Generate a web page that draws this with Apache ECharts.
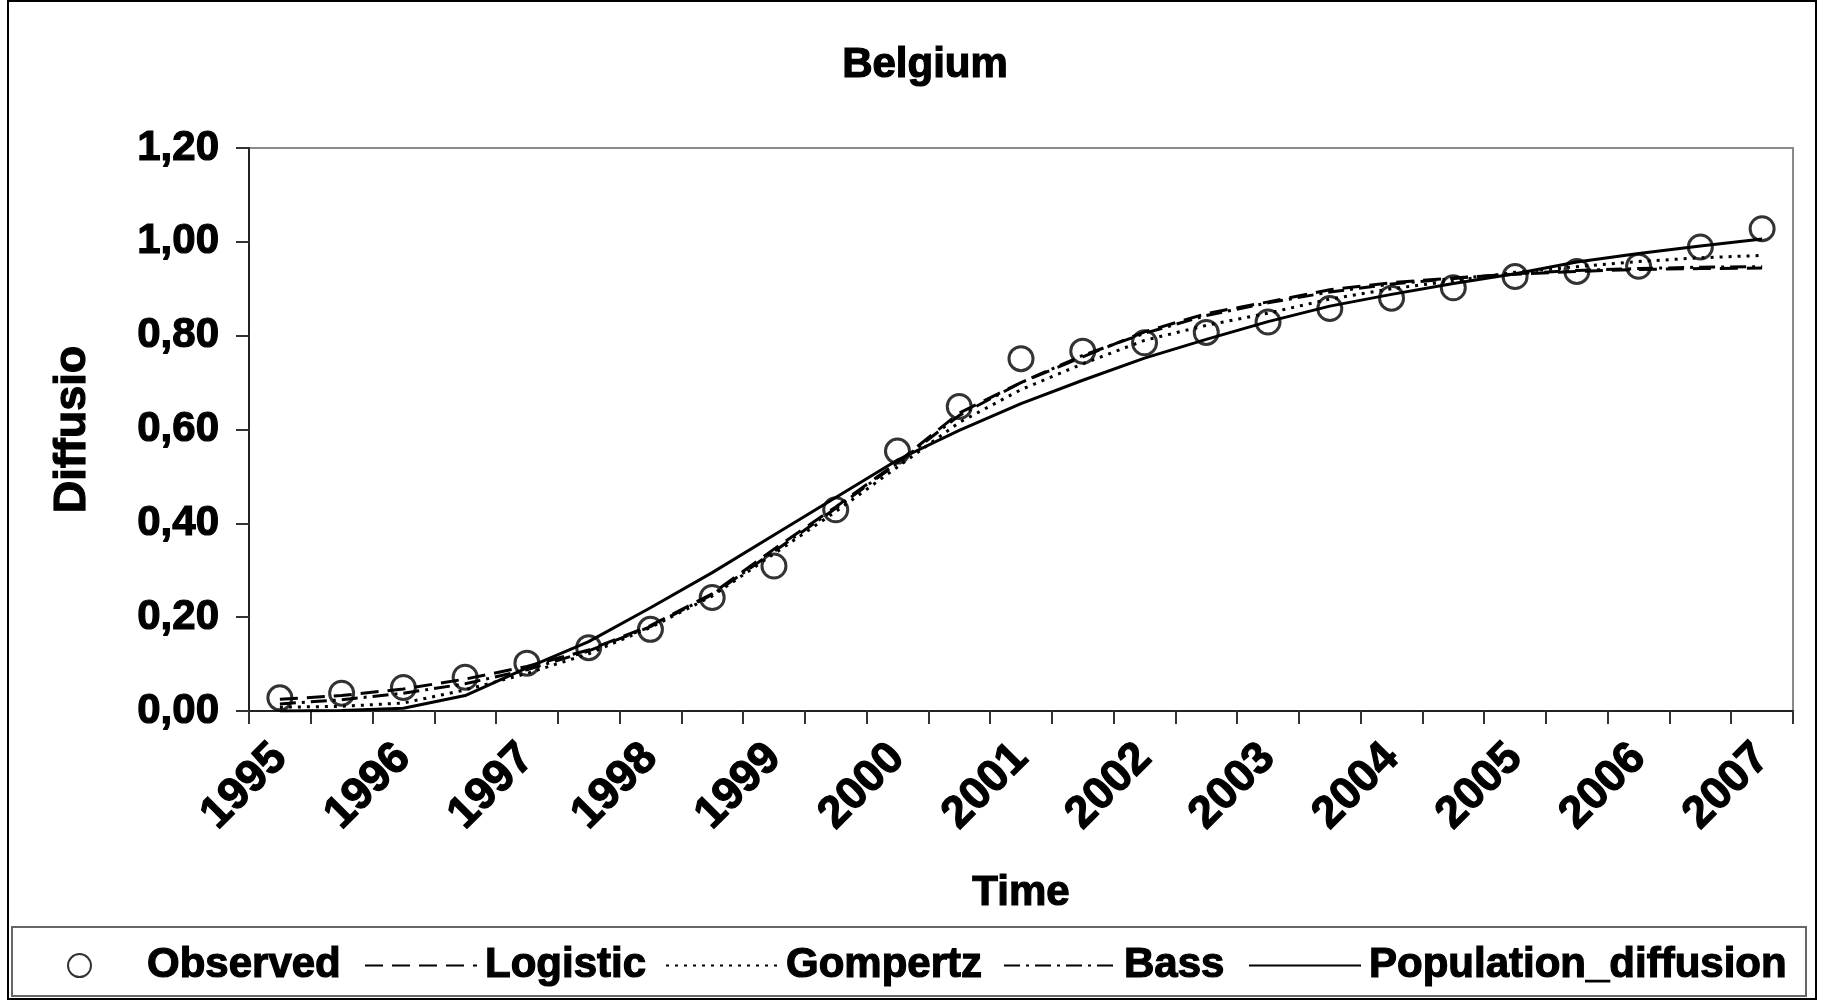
<!DOCTYPE html>
<html>
<head>
<meta charset="utf-8">
<script src="https://cdn.jsdelivr.net/npm/echarts@6/dist/echarts.min.js"></script>
<style>
  html, body { margin: 0; padding: 0; background: #ffffff; }
  #chart { width: 1829px; height: 1001px; }
</style>
</head>
<body>
<div id="chart"></div>
<script>
// Half-yearly observation periods; only the whole years get a tick label.
const periods = [
  '1995', '1995.5', '1996', '1996.5', '1997', '1997.5', '1998', '1998.5',
  '1999', '1999.5', '2000', '2000.5', '2001', '2001.5', '2002', '2002.5',
  '2003', '2003.5', '2004', '2004.5', '2005', '2005.5', '2006', '2006.5', '2007'
];

// Observed diffusion level
const observed = [
  0.028, 0.038, 0.050, 0.072, 0.102, 0.135, 0.174, 0.242, 0.309, 0.429,
  0.554, 0.649, 0.751, 0.767, 0.785, 0.807, 0.829, 0.858, 0.880, 0.902,
  0.926, 0.937, 0.948, 0.989, 1.028
];

// Fitted models
const logistic = [
  0.025, 0.033, 0.047, 0.068, 0.095, 0.130, 0.182, 0.250, 0.345, 0.435,
  0.530, 0.635, 0.700, 0.755, 0.808, 0.847, 0.872, 0.898, 0.913, 0.923,
  0.931, 0.937, 0.941, 0.943, 0.944
];
const gompertz = [
  0.008, 0.010, 0.017, 0.045, 0.080, 0.122, 0.178, 0.245, 0.335, 0.425,
  0.520, 0.615, 0.685, 0.740, 0.790, 0.822, 0.848, 0.878, 0.900, 0.917,
  0.935, 0.947, 0.958, 0.966, 0.971
];
const bass = [
  0.015, 0.024, 0.038, 0.058, 0.088, 0.128, 0.180, 0.248, 0.340, 0.432,
  0.528, 0.630, 0.700, 0.758, 0.805, 0.843, 0.870, 0.893, 0.910, 0.922,
  0.932, 0.939, 0.943, 0.946, 0.947
];
const populationDiffusion = [
  0.000, 0.001, 0.006, 0.033, 0.092, 0.148, 0.220, 0.295, 0.375, 0.455,
  0.535, 0.598, 0.655, 0.705, 0.752, 0.792, 0.830, 0.863, 0.888, 0.911,
  0.932, 0.957, 0.975, 0.991, 1.006
];

const FONT = '"Liberation Sans", Arial, sans-serif';
function bold(size) {
  return {
    fontFamily: FONT, fontWeight: 'bold', fontSize: size, color: '#000',
    textBorderColor: '#000', textBorderWidth: 1.2
  };
}

const dashes = {
  Logistic: [18, 9],
  Gompertz: [3, 6],
  Bass: [16, 6, 3, 6],
  Population_diffusion: 'solid'
};

function lineSeries(name, data) {
  return {
    name: name,
    type: 'line',
    data: data,
    symbol: 'none',
    smooth: false,
    z: 3,
    lineStyle: { color: '#000', width: 3, type: dashes[name] },
    itemStyle: { color: '#000' }
  };
}

// One legend block per entry so each sits where the key row expects it.
function legendEntry(name, left, opts) {
  return Object.assign({
    left: left,
    top: 944,
    padding: 0,
    itemWidth: 112,
    itemHeight: 24,
    textStyle: Object.assign(bold(42), { padding: [0, 0, 0, 3] }),
    data: [{ name: name, itemStyle: { opacity: 0 } }]
  }, opts || {});
}

const chart = echarts.init(document.getElementById('chart'), null, { renderer: 'canvas' });

chart.setOption({
  animation: false,
  backgroundColor: '#ffffff',
  title: {
    text: 'Belgium',
    left: 920,
    top: 39,
    textAlign: 'center',
    textStyle: bold(42)
  },
  grid: {
    left: 249, right: 36, top: 148, bottom: 290,
    show: true, borderColor: '#8a8a8a', borderWidth: 2, backgroundColor: '#ffffff'
  },
  legend: [
    {
      left: 67,
      top: 944,
      padding: 0,
      itemWidth: 23,
      itemHeight: 23,
      textStyle: Object.assign(bold(42), { padding: [0, 0, 0, 51] }),
      data: ['Observed']
    },
    legendEntry('Logistic', 364),
    legendEntry('Gompertz', 665),
    legendEntry('Bass', 1003),
    legendEntry('Population_diffusion', 1248)
  ],
  xAxis: {
    type: 'category',
    data: periods,
    boundaryGap: true,
    name: 'Time',
    nameLocation: 'middle',
    nameGap: 161,
    nameTextStyle: bold(42),
    axisLine: { lineStyle: { color: '#222', width: 2 } },
    axisTick: { show: true, interval: 0, length: 13, inside: false, lineStyle: { color: '#333', width: 2 } },
    axisLabel: Object.assign(bold(45), {
      interval: 1,
      rotate: 45,
      margin: 40
    }),
    splitLine: { show: false }
  },
  yAxis: {
    type: 'value',
    min: 0, max: 1.2, interval: 0.2,
    name: 'Diffusio',
    nameLocation: 'middle',
    nameGap: 154,
    nameTextStyle: bold(45),
    axisLine: { show: true, lineStyle: { color: '#222', width: 2 } },
    axisTick: { show: true, length: 13, inside: false, lineStyle: { color: '#333', width: 2 } },
    axisLabel: Object.assign(bold(42), {
      margin: 30,
      formatter: function (v) { return v.toFixed(2).replace('.', ','); }
    }),
    splitLine: { show: false }
  },
  graphic: [
    // outer chart frame
    { type: 'rect', z: -10, silent: true,
      shape: { x: 8, y: 1, width: 1808, height: 998 },
      style: { fill: 'none', stroke: '#000', lineWidth: 2 } },
    // legend frame
    { type: 'rect', z: -5, silent: true,
      shape: { x: 12, y: 927, width: 1794, height: 69 },
      style: { fill: 'none', stroke: '#666', lineWidth: 2 } }
  ],
  series: [
    lineSeries('Logistic', logistic),
    lineSeries('Gompertz', gompertz),
    lineSeries('Bass', bass),
    lineSeries('Population_diffusion', populationDiffusion),
    {
      name: 'Observed',
      type: 'scatter',
      data: observed,
      symbol: 'circle',
      symbolSize: 24,
      z: 4,
      itemStyle: { color: 'rgba(0,0,0,0)', borderColor: '#000', borderWidth: 3 }
    }
  ]
});
</script>
</body>
</html>
